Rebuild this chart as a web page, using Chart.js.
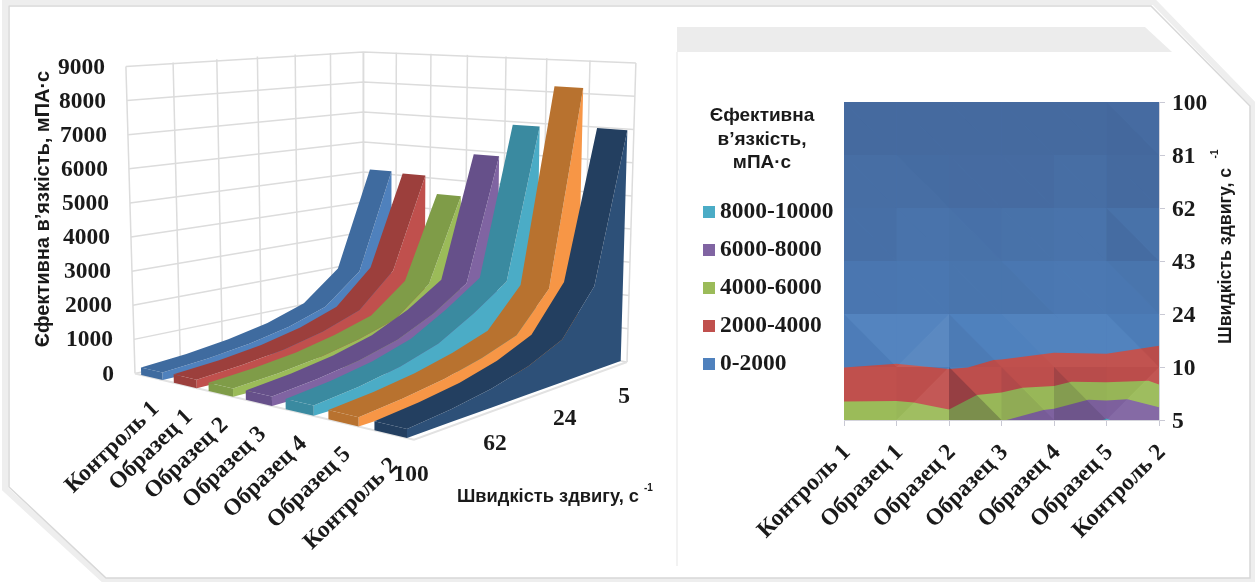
<!DOCTYPE html>
<html>
<head>
<meta charset="utf-8">
<title>Ефективна в'язкість</title>
<script src="https://cdn.jsdelivr.net/npm/chart.js@4/dist/chart.umd.min.js"></script>
<style>
  html, body { margin: 0; padding: 0; background: #fff; overflow: hidden; }
  #page { position: relative; width: 1255px; height: 582px; }
  #frame { position: absolute; left: 0; top: 0; }
  .plot { position: absolute; top: 0; height: 582px; }
  #surfaceBox { left: 0; width: 670px; }
  #contourBox { left: 677px; width: 578px; }
</style>
</head>
<body>
<div id="page">
  <svg id="frame" width="1255" height="582">
    <polygon points="5,2 1154,2 1253,104 1253,580 104,580 5,489" fill="#fff" stroke="#eeeeee" stroke-width="6"/>
    <polygon points="9,6 1151,6 1250,106 1250,578 106,578 9,487" fill="#fff" stroke="#d8d8d8" stroke-width="1.5"/>
    <polygon points="677,27 1145,27 1172,52 677,52" fill="#ececec"/>
    <line x1="677" y1="52" x2="677" y2="566" stroke="#f2f2f2" stroke-width="2"/>
  </svg>
  <div id="surfaceBox" class="plot"><canvas id="surfaceChart" width="670" height="582"></canvas></div>
  <div id="contourBox" class="plot"><canvas id="contourChart" width="578" height="582"></canvas></div>
</div>
<script>
(function () {
  var samples = ["Контроль 1", "Образец 1", "Образец 2", "Образец 3", "Образец 4", "Образец 5", "Контроль 2"];
  var shearRates = [5, 10, 24, 43, 62, 81, 100];
  var valueTicks = [0, 1000, 2000, 3000, 4000, 5000, 6000, 7000, 8000, 9000];
  var depthTicks = [5, 24, 62, 100];

  // viscosity for each sample, one value per shear rate
  var control1 = [5100, 2000, 1100, 720, 480, 320, 220];
  var sample1 = [5050, 2170, 1150, 760, 500, 340, 240];
  var sample2 = [4480, 1890, 1050, 720, 480, 330, 230];
  var sample3 = [5850, 2080, 1400, 900, 600, 400, 260];
  var sample4 = [6870, 2300, 1600, 1000, 650, 430, 280];
  var sample5 = [8150, 2250, 1150, 800, 540, 370, 250];
  var control2 = [6960, 2510, 1235, 800, 520, 350, 240];
  var seriesValues = [control1, sample1, sample2, sample3, sample4, sample5, control2];

  // contour edges: position along the sample axis / position along the rate axis
  var edge2000X = [0, 1, 2, 2.36, 2.85, 3, 4, 5, 6];
  var edge2000Y = [0.99, 1.06, 0.96, 0.99, 1.13, 1.14, 1.27, 1.25, 1.4];
  var edge4000X = [0, 1, 1.33, 2, 2.53, 3, 3.4, 4, 4.33, 5, 5.8, 6];
  var edge4000Y = [0.35, 0.36, 0.33, 0.2, 0.47, 0.52, 0.61, 0.64, 0.72, 0.71, 0.74, 0.67];
  var edge6000X = [3.1, 3.8, 4, 4.65, 5, 5.4, 6];
  var edge6000Y = [0, 0.19, 0.21, 0.38, 0.37, 0.39, 0.24];
  var edge8000X = [4.93, 5, 5.07];
  var edge8000Y = [0, 0.03, 0];

  var legendRanges = ["8000-10000", "6000-8000", "4000-6000", "2000-4000", "0-2000"];
  var legendColors = ["#4bacc6", "#8064a2", "#9bbb59", "#c0504d", "#4f81bd"];

  var serif = "'Liberation Serif', serif";
  var sans = "'Liberation Sans', sans-serif";
  var tickFont = "bold 23.5px " + serif;
  var textColor = "#1a1a1a";

  // [top face, side wall]
  var ribbonColors = [
    ["#3f6b9f", "#4f81bd"],
    ["#9c3f3c", "#c0504d"],
    ["#7f9c48", "#9bbb59"],
    ["#66508a", "#8064a2"],
    ["#3a8aa0", "#4bacc6"],
    ["#b8722f", "#f79646"],
    ["#233f60", "#2d5078"]
  ];

  // floor corners and wall heights of the 3D box, in canvas units
  var corners = { x: [135, 414, 627, 364], y: [373.5, 439.6, 362, 322] };
  var fullHeight = [307, 340, 299, 270];
  var valueMax = 9000;
  var ribbonStart = 0.028;
  var ribbonWidth = 0.095;

  var sx = corners.x[0] - corners.x[1] + corners.x[2] - corners.x[3];
  var sy = corners.y[0] - corners.y[1] + corners.y[2] - corners.y[3];
  var d1x = corners.x[1] - corners.x[2];
  var d1y = corners.y[1] - corners.y[2];
  var d2x = corners.x[3] - corners.x[2];
  var d2y = corners.y[3] - corners.y[2];
  var det = d1x * d2y - d2x * d1y;
  var gu = (sx * d2y - d2x * sy) / det;
  var gv = (d1x * sy - sx * d1y) / det;

  function project(u, v, value) {
    var w = gu * u + gv * v + 1;
    var fx = ((corners.x[1] - corners.x[0] + gu * corners.x[1]) * u + (corners.x[3] - corners.x[0] + gv * corners.x[3]) * v + corners.x[0]) / w;
    var fy = ((corners.y[1] - corners.y[0] + gu * corners.y[1]) * u + (corners.y[3] - corners.y[0] + gv * corners.y[3]) * v + corners.y[0]) / w;
    var span = (1 - u) * (1 - v) * fullHeight[0] + u * (1 - v) * fullHeight[1] + u * v * fullHeight[2] + (1 - u) * v * fullHeight[3];
    var rise = value / valueMax * span;
    return { x: fx - (381 - fx) * rise / 8300, y: fy - rise };
  }

  function rateDepth(index) {
    return 1 - index / (shearRates.length - 1);
  }

  function polygon(points, color) {
    return {
      type: "line",
      data: points,
      backgroundColor: color,
      borderColor: color,
      borderWidth: 0,
      pointRadius: 0,
      fill: "shape",
      tension: 0
    };
  }

  function outline(points, color, width) {
    return {
      type: "line",
      data: points,
      borderColor: color,
      borderWidth: width,
      pointRadius: 0,
      fill: false,
      tension: 0
    };
  }

  function buildSurfaceDatasets() {
    var list = [];
    var gridColor = "#dcdcdc";

    valueTicks.forEach(function (tick) {
      list.push(outline([project(0, 0, tick), project(0, 1, tick), project(1, 1, tick)], gridColor, 1.5));
    });
    shearRates.forEach(function (rate, r) {
      var v = rateDepth(r);
      list.push(outline([project(0, v, 0), project(0, v, valueMax)], gridColor, 1.5));
    });
    for (var c = 0; c <= samples.length; c++) {
      var u = c / samples.length;
      list.push(outline([project(u, 1, 0), project(u, 1, valueMax)], gridColor, 1.5));
    }
    list.push(outline([project(0, 0, 0), project(1, 0, 0), project(1, 1, 0)], "#e2e2e2", 2));

    // painted from the far sample to the near one so that each ribbon hides the last
    seriesValues.forEach(function (values, i) {
      var u0 = ribbonStart + i / samples.length;
      var u1 = u0 + ribbonWidth;
      var top0 = [], top1 = [], floor1 = [];
      values.forEach(function (value, r) {
        var v = rateDepth(r);
        top0.push(project(u0, v, value));
        top1.push(project(u1, v, value));
        floor1.push(project(u1, v, 0));
      });
      var last = values.length - 1;
      list.push(polygon(top1.concat(floor1.slice().reverse()), ribbonColors[i][1]));
      list.push(polygon(top0.concat(top1.slice().reverse()), ribbonColors[i][0]));
      list.push(polygon([top0[last], top1[last], floor1[last], project(u0, 0, 0)], ribbonColors[i][0]));
    });
    return list.reverse();
  }

  function drawText(ctx, text, x, y, font, align, angle) {
    ctx.save();
    ctx.translate(x, y);
    ctx.rotate((angle || 0) * Math.PI / 180);
    ctx.font = font;
    ctx.fillStyle = textColor;
    ctx.textAlign = align || "center";
    ctx.textBaseline = "middle";
    ctx.fillText(text, 0, 0);
    ctx.restore();
  }

  var surfaceLabels = {
    id: "surfaceLabels",
    afterDraw: function (chart) {
      var ctx = chart.ctx;
      var xs = chart.scales.x;
      var ys = chart.scales.y;

      valueTicks.forEach(function (tick) {
        var p = project(0, 0, tick);
        drawText(ctx, String(tick), xs.getPixelForValue(p.x) - 21, ys.getPixelForValue(p.y) + 1, tickFont, "right");
      });
      samples.forEach(function (name, i) {
        var p = project(ribbonStart + i / samples.length + ribbonWidth / 2, 0, 0);
        drawText(ctx, name, xs.getPixelForValue(p.x) + 4, ys.getPixelForValue(p.y) + 28, tickFont, "right", -44);
      });
      depthTicks.forEach(function (rate) {
        var p = project(1, rateDepth(shearRates.indexOf(rate)), 0);
        drawText(ctx, String(rate), xs.getPixelForValue(p.x) - 3, ys.getPixelForValue(p.y) + 35, tickFont);
      });

      drawText(ctx, "Єфективна в’язкість, мПА·с", 43, 209, "bold 20px " + sans, "center", -90);
      drawText(ctx, "Швидкість здвигу, с", 457, 497, "bold 18.3px " + sans, "left");
      drawText(ctx, "-1", 644, 488, "bold 10px " + sans, "left");
    }
  };

  new Chart(document.getElementById("surfaceChart"), {
    type: "scatter",
    data: { datasets: buildSurfaceDatasets() },
    options: {
      responsive: false,
      animation: false,
      layout: { padding: 0 },
      plugins: { legend: { display: false }, tooltip: { enabled: false } },
      scales: {
        x: { type: "linear", min: 0, max: 670, display: false },
        y: { type: "linear", min: 0, max: 582, reverse: true, display: false }
      }
    },
    plugins: [surfaceLabels]
  });

  function zipPoints(xs, ys) {
    return xs.map(function (x, i) {
      return { x: x, y: ys[i] };
    });
  }

  function band(xs, ys, color) {
    var points = zipPoints(xs, ys);
    points.push({ x: xs[xs.length - 1], y: 0 });
    points.push({ x: xs[0], y: 0 });
    return polygon(points, color);
  }

  // soft facet shading per cell, rows run from the lowest rate up; alpha, negative = darker
  var facetLower = [
    [0, -0.02, -0.26, -0.09, -0.18, -0.03],
    [-0.03, 0.03, -0.05, 0, 0.02, 0.02],
    [-0.09, -0.08, -0.1, -0.1, -0.07, -0.08],
    [-0.15, -0.12, -0.13, -0.13, -0.12, -0.18],
    [-0.16, -0.16, -0.19, -0.19, -0.16, -0.2],
    [-0.2, -0.2, -0.2, -0.2, -0.2, -0.21]
  ];
  var facetUpper = [
    [0, 0.05, -0.02, -0.02, -0.05, 0.04],
    [0.03, 0.07, 0, 0.02, 0.02, -0.04],
    [-0.09, -0.08, -0.1, -0.08, -0.07, -0.1],
    [-0.15, -0.12, -0.14, -0.13, -0.12, -0.13],
    [-0.16, -0.18, -0.19, -0.19, -0.16, -0.2],
    [-0.2, -0.2, -0.2, -0.2, -0.2, -0.19]
  ];
  var flippedCells = ["0,1", "1,1", "0,5"];

  function shade(alpha) {
    return alpha < 0 ? "rgba(30,15,40," + (-alpha) + ")" : "rgba(255,255,255," + alpha + ")";
  }

  function buildContourDatasets() {
    var list = [];
    var top = shearRates.length - 1;
    var right = samples.length - 1;

    list.push(polygon([{ x: 0, y: 0 }, { x: right, y: 0 }, { x: right, y: top }, { x: 0, y: top }], legendColors[4]));
    list.push(band(edge2000X, edge2000Y, legendColors[3]));
    list.push(band(edge4000X, edge4000Y, legendColors[2]));
    list.push(band(edge6000X, edge6000Y, legendColors[1]));
    list.push(band(edge8000X, edge8000Y, legendColors[0]));

    facetLower.forEach(function (row, r) {
      row.forEach(function (alpha, c) {
        var a = { x: c, y: r }, b = { x: c + 1, y: r }, d = { x: c + 1, y: r + 1 }, e = { x: c, y: r + 1 };
        if (flippedCells.indexOf(r + "," + c) >= 0) {
          list.push(polygon([a, b, d], shade(facetUpper[r][c])));
          list.push(polygon([a, d, e], shade(alpha)));
        } else {
          list.push(polygon([a, b, e], shade(alpha)));
          list.push(polygon([b, d, e], shade(facetUpper[r][c])));
        }
      });
    });
    return list.reverse();
  }

  var contourLabels = {
    id: "contourLabels",
    afterDraw: function (chart) {
      var ctx = chart.ctx;
      drawText(ctx, "Єфективна", 85, 116, "bold 19px " + sans);
      drawText(ctx, "в’язкість,", 85, 140, "bold 19px " + sans);
      drawText(ctx, "мПА·с", 85, 163, "bold 19px " + sans);

      legendRanges.forEach(function (text, i) {
        var y = 212 + i * 38;
        ctx.fillStyle = legendColors[i];
        ctx.fillRect(26, y - 6, 12, 12);
        drawText(ctx, text, 43, y, tickFont, "left");
      });

      drawText(ctx, "Швидкість здвигу, с", 549, 256, "bold 17.7px " + sans, "center", -90);
      drawText(ctx, "-1", 538, 154, "bold 10px " + sans, "center", -90);
    }
  };

  new Chart(document.getElementById("contourChart"), {
    type: "scatter",
    data: { datasets: buildContourDatasets() },
    options: {
      responsive: false,
      animation: false,
      layout: { padding: { left: 167, top: 102 } },
      plugins: { legend: { display: false }, tooltip: { enabled: false } },
      scales: {
        x: {
          type: "linear",
          min: 0,
          max: samples.length - 1,
          afterFit: function (scale) { scale.height = 162; },
          grid: { drawOnChartArea: false, color: "#c9c9d4", tickLength: 6 },
          border: { color: "#d4d4dc" },
          ticks: {
            stepSize: 1,
            minRotation: 45,
            maxRotation: 45,
            padding: 13,
            labelOffset: 3,
            color: textColor,
            font: { family: serif, weight: "bold", size: 23.5 },
            callback: function (value) { return samples[value]; }
          }
        },
        y: {
          type: "linear",
          position: "right",
          min: 0,
          max: shearRates.length - 1,
          afterFit: function (scale) { scale.width = 96; },
          grid: { drawOnChartArea: false, color: "#c9c9d4", tickLength: 6 },
          border: { color: "#d4d4dc" },
          ticks: {
            stepSize: 1,
            padding: 7,
            labelOffset: 2,
            color: textColor,
            font: { family: serif, weight: "bold", size: 23.5 },
            callback: function (value) { return shearRates[value]; }
          }
        }
      }
    },
    plugins: [contourLabels]
  });
})();
</script>
</body>
</html>
